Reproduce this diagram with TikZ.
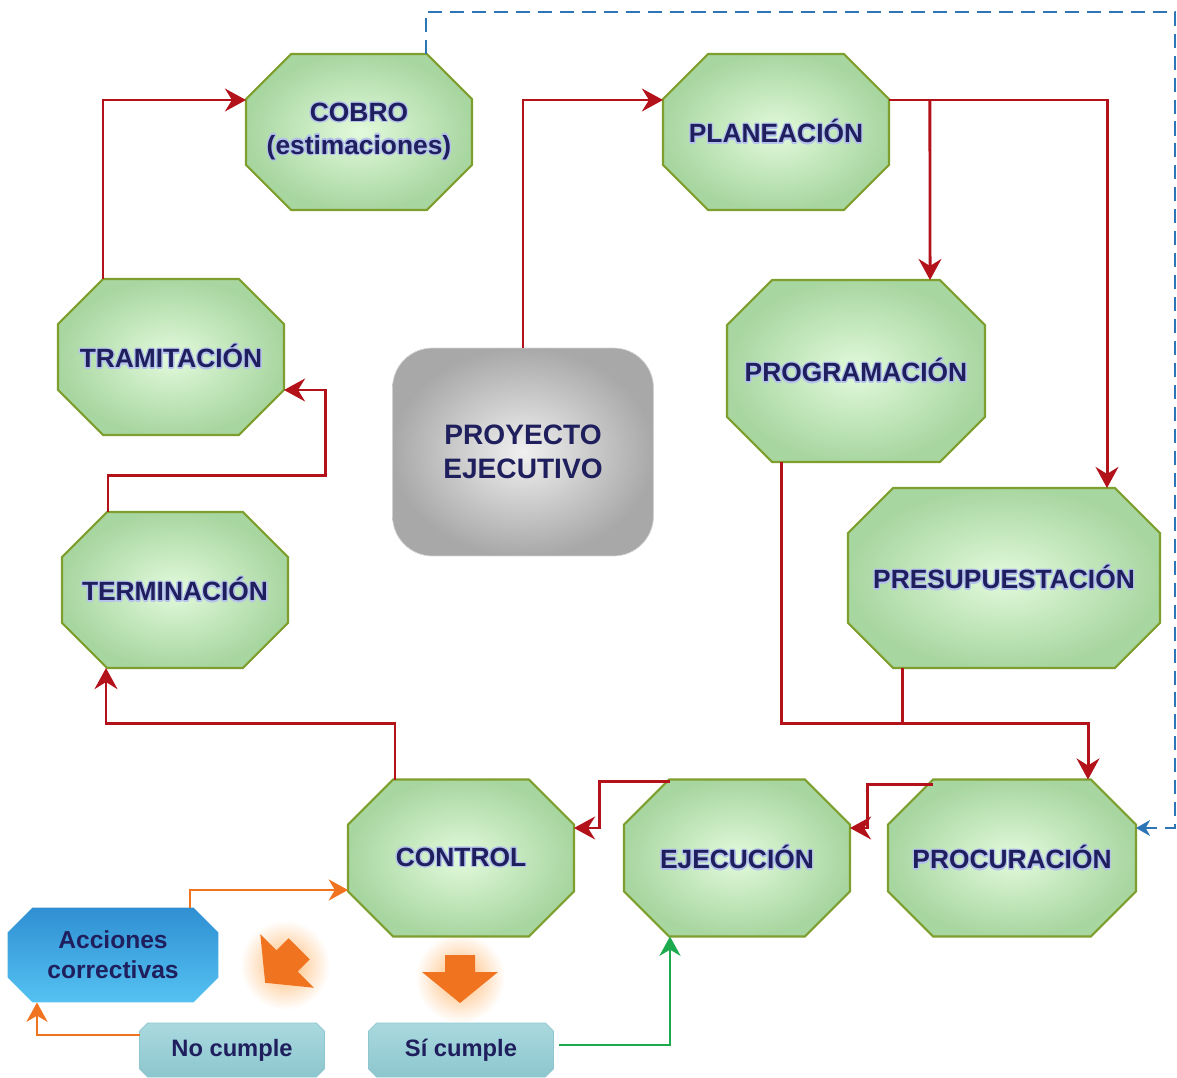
\documentclass[tikz,border=0pt]{standalone}
\usepackage{fontspec}
\setmainfont{Liberation Sans}
\usepackage{xcolor}
\usepackage[copies]{contour}
\usepackage{tikz}
\usetikzlibrary{arrows.meta, positioning, calc}

\definecolor{navytext}{HTML}{1F1F5E}
\definecolor{halo}{HTML}{B4C2EC}
\definecolor{linkred}{HTML}{B3121B}
\definecolor{dashblue}{HTML}{2E75B6}
\definecolor{fixorange}{HTML}{F07320}
\definecolor{okgreen}{HTML}{1DAA4E}
\definecolor{stagein}{HTML}{E2FADC}
\definecolor{stageout}{HTML}{A8D6A0}
\definecolor{stageedge}{HTML}{7E9E2E}
\definecolor{fixtop}{HTML}{2F8FD2}
\definecolor{fixbottom}{HTML}{55C2F2}
\definecolor{checktop}{HTML}{A9D9DF}
\definecolor{checkbottom}{HTML}{8DC6CE}

\contourlength{0.7pt}
\newcommand\glow[1]{\contour{halo}{#1}}

% octagon with cut corners, anchors of a rectangle
\makeatletter
\newdimen\octL \newdimen\octR \newdimen\octB \newdimen\octT \newdimen\octC
\pgfkeys{/pgf/octagon cut/.initial=0.9cm}
\pgfdeclareshape{octagon box}{
  \inheritsavedanchors[from=rectangle]
  \inheritanchorborder[from=rectangle]
  \inheritanchor[from=rectangle]{center}
  \inheritanchor[from=rectangle]{north}
  \inheritanchor[from=rectangle]{south}
  \inheritanchor[from=rectangle]{east}
  \inheritanchor[from=rectangle]{west}
  \inheritanchor[from=rectangle]{north east}
  \inheritanchor[from=rectangle]{north west}
  \inheritanchor[from=rectangle]{south east}
  \inheritanchor[from=rectangle]{south west}
  \inheritanchor[from=rectangle]{text}
  \inheritanchor[from=rectangle]{mid}
  \inheritanchor[from=rectangle]{base}
  \backgroundpath{
    \southwest \octL=\pgf@x \octB=\pgf@y
    \northeast \octR=\pgf@x \octT=\pgf@y
    \pgfmathsetlength\octC{\pgfkeysvalueof{/pgf/octagon cut}}
    \pgfpathmoveto{\pgfqpoint{\dimexpr\octL+\octC\relax}{\octB}}
    \pgfpathlineto{\pgfqpoint{\dimexpr\octR-\octC\relax}{\octB}}
    \pgfpathlineto{\pgfqpoint{\octR}{\dimexpr\octB+\octC\relax}}
    \pgfpathlineto{\pgfqpoint{\octR}{\dimexpr\octT-\octC\relax}}
    \pgfpathlineto{\pgfqpoint{\dimexpr\octR-\octC\relax}{\octT}}
    \pgfpathlineto{\pgfqpoint{\dimexpr\octL+\octC\relax}{\octT}}
    \pgfpathlineto{\pgfqpoint{\octL}{\dimexpr\octT-\octC\relax}}
    \pgfpathlineto{\pgfqpoint{\octL}{\dimexpr\octB+\octC\relax}}
    \pgfpathclose
  }
}
\makeatother

\begin{document}
\begin{tikzpicture}[
    x=0.02cm, y=-0.02cm,
    stage/.style={octagon box, octagon cut=0.9cm, outer sep=0pt, draw=stageedge, line width=1.2pt, inner color=stagein, outer color=stageout, minimum width=4.52cm, minimum height=3.12cm, text=navytext, font=\fontsize{15}{18.5}\selectfont\bfseries, align=center},
    core/.style={rectangle, rounded corners=0.8cm, outer sep=0pt, draw=gray!35, inner color=gray!12, outer color=gray!68, minimum width=5.22cm, minimum height=4.16cm, text=navytext, font=\fontsize{16}{19}\selectfont\bfseries, align=center},
    action/.style={octagon box, octagon cut=0.5cm, outer sep=0pt, draw=none, top color=fixtop, bottom color=fixbottom, minimum width=4.22cm, minimum height=1.9cm, text=navytext, font=\fontsize{14}{17}\selectfont\bfseries, align=center},
    result/.style={octagon box, octagon cut=0.16cm, outer sep=0pt, draw=checkbottom, top color=checktop, bottom color=checkbottom, minimum width=3.7cm, minimum height=1.08cm, text=navytext, font=\fontsize{13.5}{16}\selectfont\bfseries},
    arrow/.style={-{Stealth[length=12pt, width=13pt, inset=4pt]}, line width=1.7pt, color=linkred},
    line/.style={line width=1.7pt, color=linkred},
    feedback/.style={-{Stealth[length=8pt, width=9pt, inset=2.5pt]}, line width=1.2pt, color=dashblue, dash pattern=on 8pt off 4.5pt},
    fix/.style={-{Stealth[length=11pt, width=12pt, inset=3.5pt]}, line width=1.6pt, color=fixorange},
    ok/.style={-{Stealth[length=11pt, width=12pt, inset=3.5pt]}, line width=1.6pt, color=okgreen}
]
\useasboundingbox (0,0) rectangle (1177,1078);

% Orange hints
\shade[inner color=orange!55, outer color=white] (285,965) circle[radius=0.9cm];
\shade[inner color=orange!55, outer color=white] (460,978) circle[radius=0.9cm];
\begin{scope}[shift={(285,963)}, rotate=-45]
\fill[fixorange] (-15,-20) -- (15,-20) -- (15,-3) -- (38,-3) -- (0,28) -- (-38,-3) -- (-15,-3) -- cycle;
\end{scope}
\begin{scope}[shift={(460,975)}]
\fill[fixorange] (-15,-20) -- (15,-20) -- (15,-3) -- (38,-3) -- (0,28) -- (-38,-3) -- (-15,-3) -- cycle;
\end{scope}

% Stages
\node[stage] (cobro) at (359,132) {\glow{COBRO}\\\glow{(estimaciones)}};
\node[stage] (plan) at (776,132) {\glow{PLANEACIÓN}};
\node[stage, minimum width=5.16cm, minimum height=3.64cm] (prog) at (856,371) {\glow{PROGRAMACIÓN}};
\node[stage, minimum width=6.24cm, minimum height=3.6cm] (pres) at (1004,578) {\glow{PRESUPUESTACIÓN}};
\node[stage] (tram) at (171,357) {\glow{TRAMITACIÓN}};
\node[stage] (term) at (175,590) {\glow{TERMINACIÓN}};
\node[stage, minimum height=3.14cm] (ctrl) at (461,858) {\glow{CONTROL}};
\node[stage, minimum height=3.14cm] (ejec) at (737,858) {\glow{EJECUCIÓN}};
\node[stage, minimum width=4.96cm, minimum height=3.14cm] (proc) at (1012,858) {\glow{PROCURACIÓN}};

% Project
\node[core] (proy) at (523,452) {PROYECTO\\EJECUTIVO};

% Checks
\node[action] (acc) at (113,955) {Acciones\\correctivas};
\node[result] (nocump) at (232,1050) {No cumple};
\node[result] (sicump) at (461,1050) {Sí cumple};

% Main cycle
\draw[arrow] (proy.north) |- ($(plan.west)+(0,-32)$);
\draw[arrow] ($(plan.east)+(0,-32)$) -| ($(pres.north)+(103,0)$);
\draw[arrow] ($(plan.east)+(41,-32)$) -- ($(prog.north)+(74,0)$);
\draw[line] ($(pres.south)+(-102,0)$) -- ++(0,56);
\draw[arrow] ($(prog.south)+(-75,0)$) -- ++(0,262) -| ($(proc.north)+(76,0)$);
\draw[arrow] ($(proc.north)+(-79,5)$) -| ($(ejec.east)+(18,-30)$) -- ($(ejec.east)+(0,-30)$);
\draw[arrow] ($(ejec.north)+(-67,2)$) -| ($(ctrl.east)+(26,-30)$) -- ($(ctrl.east)+(0,-30)$);
\draw[arrow] ($(ctrl.north)+(-66,0)$) -- ++(0,-56) -| ($(term.south)+(-69,0)$);
\draw[arrow] ($(term.north)+(-67,0)$) -- ++(0,-37) -| ($(tram.east)+(42,33)$) -- ($(tram.east)+(0,33)$);
\draw[arrow] ($(tram.north)+(-68,0)$) |- ($(cobro.west)+(0,-32)$);

% Feedback
\draw[feedback] ($(cobro.north)+(67,0)$) -- ++(0,-42) -| ($(proc.east)+(39,-30)$) -- ($(proc.east)+(0,-30)$);

% Control loop
\draw[fix] ($(acc.north)+(77,0)$) |- ($(ctrl.west)+(0,32)$);
\draw[fix] ($(nocump.west)+(0,-15)$) -| ($(acc.south)+(-76,0)$);
\draw[ok] ($(sicump.east)+(6,-5)$) -| ($(ejec.south)+(-67,0)$);

\end{tikzpicture}
\end{document}
